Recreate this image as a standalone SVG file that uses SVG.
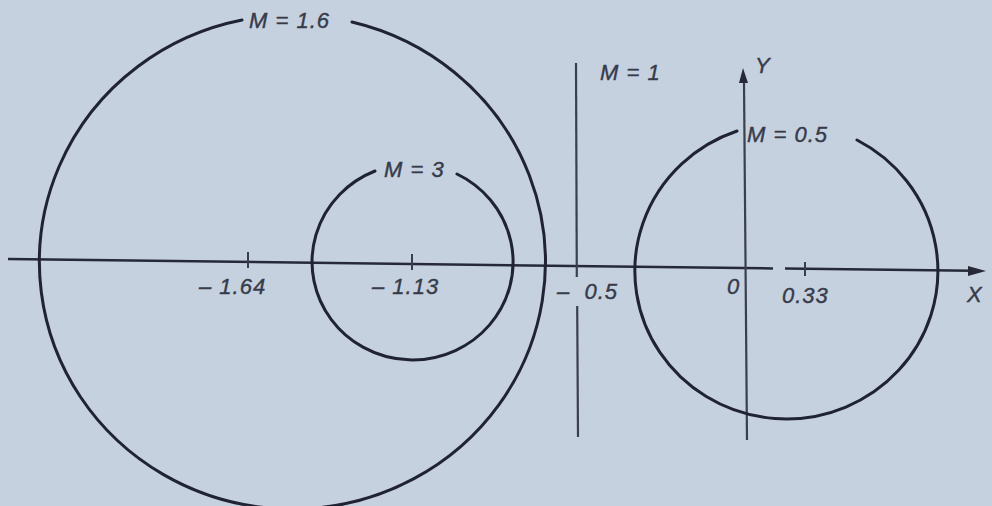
<svg xmlns="http://www.w3.org/2000/svg" width="992" height="506" viewBox="0 0 992 506">
<defs>
<style>
.bg{fill:#c6d1df}
.curve{fill:none;stroke:#1f2333;stroke-width:3;stroke-linecap:round}
.axis{fill:none;stroke:#262a38;stroke-width:2.5}
.vline{fill:none;stroke:#3a3f4d;stroke-width:2.2}
.tick{fill:none;stroke:#3a3f4d;stroke-width:2}
.lbl{font-family:"Liberation Sans",Arial,sans-serif;font-style:italic;font-size:22px;letter-spacing:1px;fill:#363b4a;stroke:#363b4a;stroke-width:0.4}
.arrow{fill:#262a38}
</style>
</defs>
<rect class="bg" x="0" y="0" width="992" height="506"/>
<g id="connectors">
<path class="axis" d="M8,259 L773,268.4"/>
<path class="axis" d="M785,268.5 L972,270.8"/>
<polygon class="arrow" points="986,271 968,266 968,276"/>
<path class="tick" d="M248,252 V268"/>
<path class="tick" d="M412,254 V270"/>
<path class="tick" d="M805,262 V276"/>
<path class="vline" d="M576,63 L576.8,277"/>
<path class="vline" d="M577.2,306 L578,437"/>
<path class="vline" d="M744,82 L747,440"/>
<polygon class="arrow" points="743,68 739,83 748,83"/>
</g>
<g id="circle-m16">
<path class="curve" d="M352,22 A253,247 0 1 1 242,20"/>
<text class="lbl" x="249" y="28">M = 1.6</text>
</g>
<g id="circle-m3">
<path class="curve" d="M457,174 A100.5,98 0 1 1 375,171"/>
<text class="lbl" x="384" y="177">M = 3</text>
</g>
<g id="circle-m05">
<path class="curve" d="M857,140 A151.5,148 0 1 1 737,131"/>
<text class="lbl" x="747" y="142">M = 0.5</text>
</g>
<g id="line-m1">
<text class="lbl" x="600" y="80">M = 1</text>
</g>
<g id="labels">
<text class="lbl" x="199" y="294">– 1.64</text>
<text class="lbl" x="372" y="294">– 1.13</text>
<text class="lbl" x="557" y="299" xml:space="preserve">–  0.5</text>
<text class="lbl" x="727" y="294">0</text>
<text class="lbl" x="782" y="303">0.33</text>
<text class="lbl" x="967" y="302">X</text>
<text class="lbl" x="755" y="73">Y</text>
</g>
</svg>
